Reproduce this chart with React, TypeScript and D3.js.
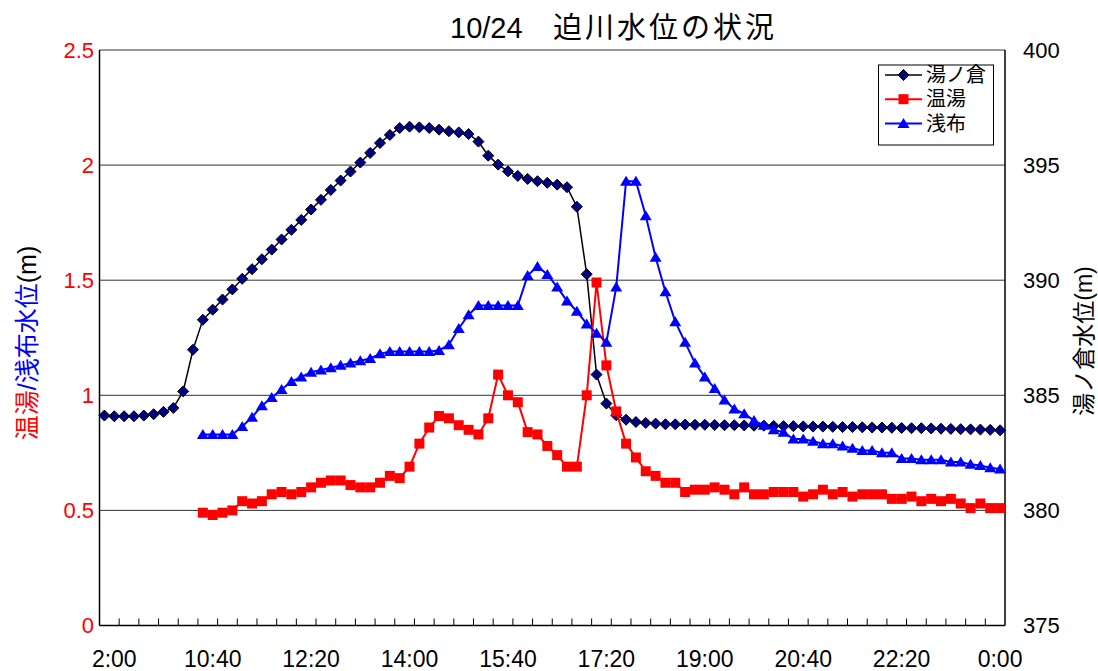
import React from 'react';
import * as d3 from 'd3';

// 10-minute readings, first one at 8:50
const categories: string[] = [];
for (let m = 8 * 60 + 50; categories.length < 92; m += 10) {
  const hh = Math.floor(m / 60) % 24;
  const mm = m % 60;
  categories.push(`${hh}:${mm < 10 ? '0' + mm : mm}`);
}

// labels shown every 10th category (starting at the 2nd one)
const tickLabels = ['2:00', '10:40', '12:20', '14:00', '15:40', '17:20', '19:00', '20:40', '22:20', '0:00'];

// 湯ノ倉 (right axis, m)
const yunokura = [
  384.12, 384.09, 384.09, 384.09, 384.12, 384.18, 384.28, 384.45, 385.17, 386.98,
  388.28, 388.72, 389.16, 389.60, 390.06, 390.48, 390.91, 391.33, 391.77, 392.19,
  392.62, 393.07, 393.49, 393.92, 394.33, 394.72, 395.11, 395.53, 395.96, 396.31,
  396.61, 396.67, 396.64, 396.61, 396.54, 396.47, 396.42, 396.35, 396.02, 395.41,
  395.02, 394.73, 394.53, 394.40, 394.30, 394.23, 394.15, 394.04, 393.19, 390.26,
  385.90, 384.64, 384.13, 383.94, 383.84, 383.80, 383.77, 383.74, 383.74, 383.73,
  383.72, 383.72, 383.71, 383.70, 383.70, 383.69, 383.68, 383.68, 383.67, 383.66,
  383.66, 383.65, 383.64, 383.64, 383.63, 383.62, 383.62, 383.61, 383.60, 383.60,
  383.59, 383.58, 383.57, 383.57, 383.56, 383.55, 383.54, 383.53, 383.52, 383.51,
  383.50, 383.48,
];

// 温湯 and 浅布 start later
const lowerStart = '10:30';

const nuruyu = [
  0.49, 0.48, 0.49, 0.50, 0.54, 0.53, 0.54, 0.57, 0.58, 0.57,
  0.58, 0.60, 0.62, 0.63, 0.63, 0.61, 0.60, 0.60, 0.62, 0.65,
  0.64, 0.69, 0.79, 0.86, 0.91, 0.90, 0.87, 0.85, 0.83, 0.90,
  1.09, 1.00, 0.97, 0.84, 0.83, 0.78, 0.74, 0.69, 0.69, 1.00,
  1.49, 1.13, 0.93, 0.79, 0.73, 0.67, 0.65, 0.62, 0.62, 0.58,
  0.59, 0.59, 0.60, 0.59, 0.57, 0.60, 0.57, 0.57, 0.58, 0.58,
  0.58, 0.56, 0.57, 0.59, 0.57, 0.58, 0.56, 0.57, 0.57, 0.57,
  0.55, 0.55, 0.56, 0.54, 0.55, 0.54, 0.55, 0.53, 0.51, 0.53,
  0.51, 0.51,
];

const asanu = [
  0.83, 0.83, 0.83, 0.83, 0.865, 0.905, 0.955, 0.99, 1.025, 1.06,
  1.08, 1.10, 1.11, 1.12, 1.13, 1.14, 1.15, 1.16, 1.18, 1.19,
  1.19, 1.19, 1.19, 1.19, 1.195, 1.22, 1.29, 1.35, 1.39, 1.39,
  1.39, 1.39, 1.39, 1.52, 1.56, 1.525, 1.47, 1.41, 1.365, 1.31,
  1.27, 1.23, 1.47, 1.93, 1.93, 1.78, 1.60, 1.45, 1.32, 1.23,
  1.14, 1.08, 1.03, 0.98, 0.94, 0.92, 0.89, 0.87, 0.85, 0.84,
  0.81, 0.81, 0.80, 0.79, 0.79, 0.78, 0.77, 0.76, 0.76, 0.75,
  0.75, 0.725, 0.725, 0.72, 0.72, 0.72, 0.71, 0.71, 0.70, 0.695,
  0.685, 0.68,
];

const leftTicks = [0, 0.5, 1, 1.5, 2, 2.5];
const rightTicks = [375, 380, 385, 390, 395, 400];

const W = 1098;
const H = 671;
const plot = { left: 99.5, right: 1005, top: 50, bottom: 625.5 };
const font = '"Liberation Sans", Arial, "Noto Sans CJK JP", sans-serif';

const diamond = 'M0,-5.5L5.5,0L0,5.5L-5.5,0Z';
const square = 'M-5,-5H5V5H-5Z';
const triangle = 'M0,-5.5L6,4.5L-6,4.5Z';

export default function App() {
  const x = d3.scaleLinear().domain([-0.5, categories.length - 0.5]).range([plot.left, plot.right]);
  const yL = d3.scaleLinear().domain([0, 2.5]).range([plot.bottom, plot.top]);
  const yR = d3.scaleLinear().domain([375, 400]).range([plot.bottom, plot.top]);

  const off = categories.indexOf(lowerStart);

  const blackPts = yunokura.map((v, i) => [x(i), yR(v)] as [number, number]);
  const redPts = nuruyu.map((v, i) => [x(i + off), yL(v)] as [number, number]);
  const bluePts = asanu.map((v, i) => [x(i + off), yL(v)] as [number, number]);

  const line = d3.line<[number, number]>();

  const boundaryTicks: number[] = [];
  for (let k = 2; k < categories.length; k += 2) boundaryTicks.push(k);

  const labelled = categories.map((_, i) => i).filter((i) => i % 10 === 1);

  const legend = [
    { name: '湯ノ倉', color: '#000000', marker: diamond, fill: '#000080', stroke: '#000' },
    { name: '温湯', color: '#ff0000', marker: square, fill: '#ff0000', stroke: 'none' },
    { name: '浅布', color: '#0000ff', marker: triangle, fill: '#0000ff', stroke: 'none' },
  ];

  return (
    <svg
      width={W}
      height={H}
      style={{ position: 'absolute', left: 0, top: 0, background: '#fff' }}
      fontFamily={font}
    >
      {/* gridlines */}
      {leftTicks.slice(1).map((t) => (
        <line key={t} x1={plot.left} x2={plot.right} y1={yL(t)} y2={yL(t)} stroke="#333" strokeWidth={1} />
      ))}

      {/* axes */}
      <line x1={plot.left} x2={plot.left} y1={plot.top} y2={plot.bottom} stroke="#000" strokeWidth={1.5} />
      <line x1={plot.right} x2={plot.right} y1={plot.top} y2={plot.bottom} stroke="#000" strokeWidth={1.5} />
      <line x1={plot.left} x2={plot.right} y1={plot.bottom} y2={plot.bottom} stroke="#000" strokeWidth={1.5} />
      {boundaryTicks.map((k) => (
        <line key={k} x1={x(k - 0.5)} x2={x(k - 0.5)} y1={plot.bottom} y2={plot.bottom - 7} stroke="#000" strokeWidth={1} />
      ))}

      {leftTicks.map((t) => (
        <text key={t} x={94} y={yL(t)} dy="0.35em" textAnchor="end" fontSize={22} fill="#ff0000">
          {t}
        </text>
      ))}
      {rightTicks.map((t) => (
        <text key={t} x={1023} y={yR(t)} dy="0.35em" textAnchor="start" fontSize={22} fill="#000">
          {t}
        </text>
      ))}
      {labelled.map((i, n) => (
        <text key={i} x={x(i)} y={667} textAnchor="middle" fontSize={23} fill="#000">
          {tickLabels[n]}
        </text>
      ))}

      {/* 湯ノ倉 */}
      <path d={line(blackPts) || ''} fill="none" stroke="#000" strokeWidth={1.5} />
      {blackPts.map(([px, py], i) => (
        <path key={i} d={diamond} transform={`translate(${px},${py})`} fill="#000080" stroke="#000" strokeWidth={1} />
      ))}

      {/* 温湯 */}
      <path d={line(redPts) || ''} fill="none" stroke="#ff0000" strokeWidth={2} />
      {redPts.map(([px, py], i) => (
        <path key={i} d={square} transform={`translate(${px},${py})`} fill="#ff0000" />
      ))}

      {/* 浅布 */}
      <path d={line(bluePts) || ''} fill="none" stroke="#0000ff" strokeWidth={2} />
      {bluePts.map(([px, py], i) => (
        <path key={i} d={triangle} transform={`translate(${px},${py})`} fill="#0000ff" />
      ))}

      {/* legend */}
      <rect x={878.5} y={65} width={115} height={80} fill="#fff" stroke="#000" strokeWidth={1} />
      {legend.map((d, i) => {
        const ly = 75 + i * 24.2;
        return (
          <g key={d.name}>
            <line x1={885} x2={922} y1={ly} y2={ly} stroke={d.color} strokeWidth={d.name === '湯ノ倉' ? 1.5 : 2} />
            <path d={d.marker} transform={`translate(903.5,${ly})`} fill={d.fill} stroke={d.stroke} strokeWidth={1} />
            <text x={926} y={ly} dy="0.36em" fontSize={20} fill="#000">
              {d.name}
            </text>
          </g>
        );
      })}

      {/* title */}
      <text y={38} fontSize={29} fill="#000">
        <tspan x={450}>10/24</tspan>
        <tspan x={553} letterSpacing={3}>迫川水位の状況</tspan>
      </text>

      {/* axis titles */}
      <text
        transform="translate(27,343) rotate(-90)"
        textAnchor="middle"
        dominantBaseline="central"
        fontSize={25}
      >
        <tspan fill="#ff0000">温湯</tspan>
        <tspan fill="#0000ff">/浅布水位</tspan>
        <tspan fill="#000">(m)</tspan>
      </text>
      <text
        transform="translate(1084,341) rotate(-90)"
        textAnchor="middle"
        dominantBaseline="central"
        fontSize={23}
        fill="#000"
      >
        湯ノ倉水位(m)
      </text>
    </svg>
  );
}
